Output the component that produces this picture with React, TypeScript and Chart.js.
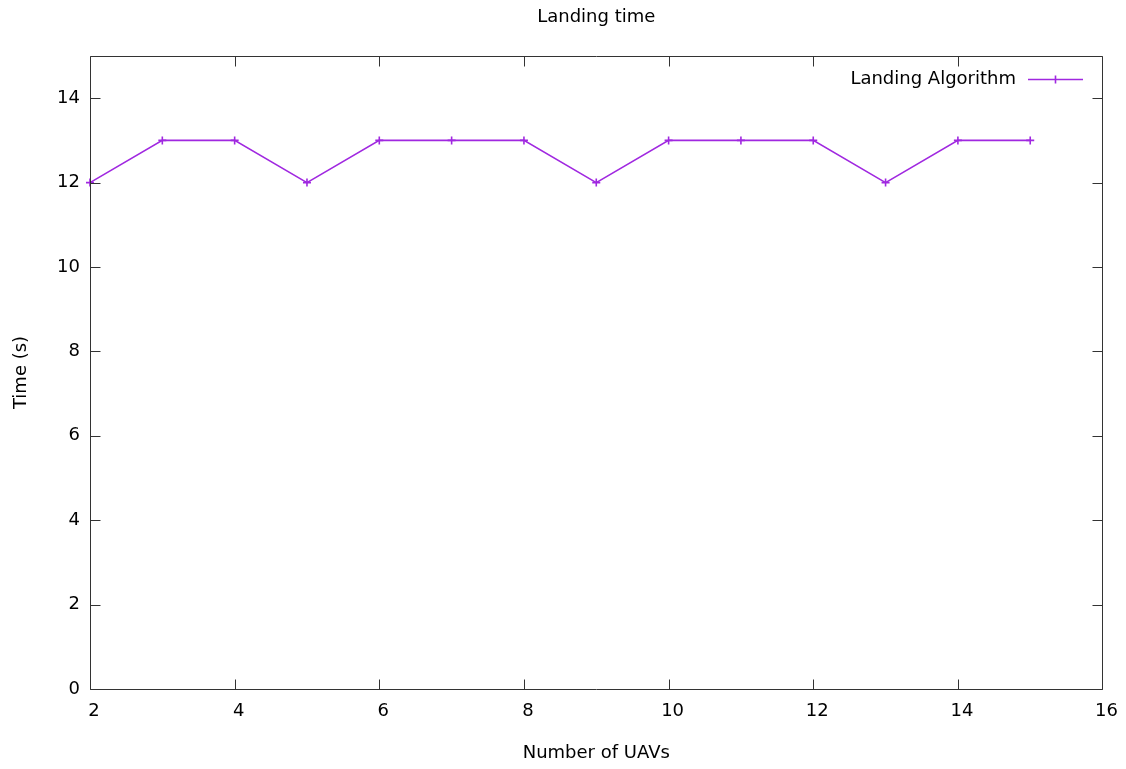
import React, { useEffect, useRef } from 'react';
import { Chart, registerables } from 'chart.js';

Chart.register(...registerables);

const chartTitle = 'Landing time';
const xAxisTitle = 'Number of UAVs';
const yAxisTitle = 'Time (s)';
const seriesLabel = 'Landing Algorithm';
const uavCounts = [2, 3, 4, 5, 6, 7, 8, 9, 10, 11, 12, 13, 14, 15];
const landingTimes = [12, 13, 13, 12, 13, 13, 13, 12, 13, 13, 13, 12, 13, 13];
const xTickValues = [2, 4, 6, 8, 10, 12, 14, 16];
const yTickValues = [0, 2, 4, 6, 8, 10, 12, 14];

const FONT = 'DejaVu Sans';
const LINE_COLOR = '#a028e0';
const AXIS_COLOR = '#333333';

const framePlugin = {
  id: 'gnuplotFrame',
  afterDraw(chart: any) {
    const { ctx, chartArea } = chart;
    const { left, right, top, bottom } = chartArea;
    const xs = chart.scales.x;
    const ys = chart.scales.y;
    const L = Math.round(left) + 0.5;
    const R = Math.round(right) - 0.5;
    const T = Math.round(top) + 0.5;
    const B = Math.round(bottom) + 0.5;
    ctx.save();
    ctx.strokeStyle = AXIS_COLOR;
    ctx.lineWidth = 1;
    ctx.beginPath();
    ctx.rect(L, T, R - L, B - T);
    ctx.stroke();
    const tl = 10;
    ctx.beginPath();
    xTickValues.forEach((v) => {
      const px = Math.min(Math.max(Math.round(xs.getPixelForValue(v)) + 0.5, L), R);
      ctx.moveTo(px, B);
      ctx.lineTo(px, B - tl);
      ctx.moveTo(px, T);
      ctx.lineTo(px, T + tl);
    });
    yTickValues.forEach((v) => {
      const py = Math.min(Math.max(Math.round(ys.getPixelForValue(v)) + 0.5, T), B);
      ctx.moveTo(L, py);
      ctx.lineTo(L + tl, py);
      ctx.moveTo(R, py);
      ctx.lineTo(R - tl, py);
    });
    ctx.stroke();

    ctx.fillStyle = '#000';
    ctx.font = `18px "${FONT}"`;
    ctx.textBaseline = 'middle';
    ctx.textAlign = 'center';
    const cx = (left + right) / 2;
    ctx.fillText(chartTitle, cx, 17);
    ctx.fillText(xAxisTitle, cx, 753);
    ctx.save();
    ctx.translate(21, (top + bottom) / 2);
    ctx.rotate(-Math.PI / 2);
    ctx.fillText(yAxisTitle, 0, 0);
    ctx.restore();

    // legend
    const ly = 79;
    ctx.textAlign = 'right';
    ctx.fillText(seriesLabel, 1016, ly);
    ctx.strokeStyle = LINE_COLOR;
    ctx.lineWidth = 1.6;
    ctx.beginPath();
    ctx.moveTo(1028, ly + 0.5);
    ctx.lineTo(1083, ly + 0.5);
    ctx.moveTo(1055.5, ly - 3.5);
    ctx.lineTo(1055.5, ly + 4.5);
    ctx.stroke();
    ctx.restore();
  },
};

export default function App() {
  const canvasRef = useRef<HTMLCanvasElement | null>(null);

  useEffect(() => {
    document.body.style.margin = '0';
    const canvas = canvasRef.current;
    if (!canvas) return;
    const chart = new Chart(canvas, {
      type: 'line',
      data: {
        datasets: [
          {
            label: seriesLabel,
            data: uavCounts.map((x, i) => ({ x, y: landingTimes[i] })),
            borderColor: LINE_COLOR,
            backgroundColor: LINE_COLOR,
            borderWidth: 1.6,
            pointStyle: 'cross',
            pointRadius: 4,
            pointBorderWidth: 1.6,
            pointBorderColor: LINE_COLOR,
            tension: 0,
            fill: false,
            clip: false as any,
          },
        ],
      },
      options: {
        animation: false,
        responsive: false,
        devicePixelRatio: 1,
        layout: { padding: { left: 0, top: 56, right: 22, bottom: 0 } },
        plugins: {
          legend: { display: false },
          title: { display: false },
          tooltip: { enabled: false },
        },
        scales: {
          x: {
            type: 'linear',
            min: 2,
            max: 16,
            grid: { display: false, drawTicks: false },
            border: { display: false },
            afterBuildTicks: (s: any) => {
              s.ticks = xTickValues.map((value) => ({ value }));
            },
            afterFit: (s: any) => {
              s.height = 80;
            },
            ticks: {
              color: '#000',
              font: { family: FONT, size: 18 },
              padding: 12,
              labelOffset: 4,
              maxRotation: 0,
              autoSkip: false,
            },
          },
          y: {
            type: 'linear',
            min: 0,
            max: 15,
            grid: { display: false, drawTicks: false },
            border: { display: false },
            afterBuildTicks: (s: any) => {
              s.ticks = yTickValues.map((value) => ({ value }));
            },
            afterFit: (s: any) => {
              s.width = 90;
            },
            ticks: {
              color: '#000',
              font: { family: FONT, size: 18 },
              padding: 10,
              autoSkip: false,
            },
          },
        },
      },
      plugins: [framePlugin],
    });
    return () => chart.destroy();
  }, []);

  return (
    <canvas
      ref={canvasRef}
      width={1126}
      height={769}
      style={{ display: 'block', width: 1126, height: 769 }}
    />
  );
}
